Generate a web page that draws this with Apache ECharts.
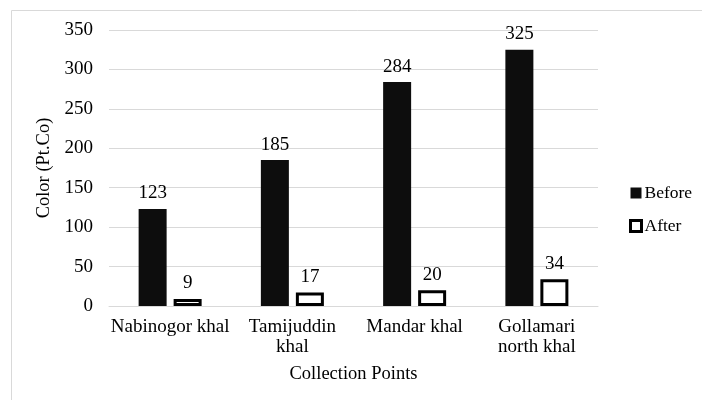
<!DOCTYPE html>
<html>
<head>
<meta charset="utf-8">
<script src="https://cdn.jsdelivr.net/npm/echarts@6/dist/echarts.min.js"></script>
<style>
  html, body { margin: 0; padding: 0; background: #fff; }
  #chart { width: 702px; height: 400px; }
</style>
</head>
<body>
<div id="chart"></div>
<script>
// Collection points sampled along the khals
const categories = ['Nabinogor khal', 'Tamijuddin khal', 'Mandar khal', 'Gollamari north khal'];
const tickLabels = ['Nabinogor khal', 'Tamijuddin\nkhal', 'Mandar khal', 'Gollamari\nnorth khal'];
// Colour (Pt.Co) before and after treatment
const beforeValues = [123, 185, 284, 325];
const afterValues = [9, 17, 20, 34];
const yTicks = [0, 50, 100, 150, 200, 250, 300, 350];

const font = '"Liberation Serif", "Times New Roman", serif';
const chart = echarts.init(document.getElementById('chart'));

chart.setOption({
  animation: false,
  textStyle: { fontFamily: font, color: '#000' },
  graphic: [{
    type: 'rect',
    shape: { x: 11.5, y: 10.5, width: 720, height: 420 },
    style: { fill: 'none', stroke: '#d9d9d9', lineWidth: 1 },
    silent: true
  }],
  grid: { left: 109, right: 104, top: 30, bottom: 94 },
  legend: {
    orient: 'vertical',
    left: 629,
    top: 184,
    padding: 0,
    itemWidth: 11,
    itemHeight: 11,
    itemGap: 15,
    textStyle: { fontFamily: font, fontSize: 17.5, color: '#000', padding: [0, 0, 0, -2] },
    data: [
      { name: 'Before', icon: 'rect', itemStyle: { color: '#0d0d0d', borderWidth: 0 } },
      { name: 'After', icon: 'rect', itemStyle: { color: '#fff', borderColor: '#000', borderWidth: 3 } }
    ]
  },
  xAxis: {
    type: 'category',
    data: categories,
    name: 'Collection Points',
    nameLocation: 'middle',
    nameGap: 59,
    nameTextStyle: { fontFamily: font, fontSize: 18.5, color: '#000' },
    axisLine: { lineStyle: { color: '#d9d9d9', width: 1 } },
    axisTick: { show: false },
    axisLabel: {
      interval: 0,
      hideOverlap: false,
      fontFamily: font, fontSize: 19, color: '#000', margin: 11, lineHeight: 20,
      formatter: (v, i) => tickLabels[i]
    }
  },
  yAxis: {
    type: 'value',
    min: yTicks[0],
    max: yTicks[yTicks.length - 1],
    interval: yTicks[1] - yTicks[0],
    name: 'Color (Pt.Co)',
    nameLocation: 'middle',
    nameGap: 54,
    nameTextStyle: { fontFamily: font, fontSize: 18.5, color: '#000' },
    axisLine: { show: false },
    axisTick: { show: false },
    axisLabel: { fontFamily: font, fontSize: 19, color: '#000', margin: 16 },
    splitLine: { lineStyle: { color: '#d9d9d9', width: 1 } }
  },
  series: [
    {
      name: 'Before',
      type: 'bar',
      data: beforeValues,
      barWidth: 28,
      barGap: '25%',
      itemStyle: { color: '#0d0d0d' },
      label: { show: true, position: 'top', distance: 6, fontFamily: font, fontSize: 19, color: '#000' }
    },
    {
      name: 'After',
      type: 'bar',
      data: afterValues,
      barWidth: 28,
      itemStyle: { color: '#fff', borderColor: '#000', borderWidth: 3 },
      label: { show: true, position: 'top', distance: 6, fontFamily: font, fontSize: 19, color: '#000' }
    }
  ]
});
</script>
</body>
</html>
